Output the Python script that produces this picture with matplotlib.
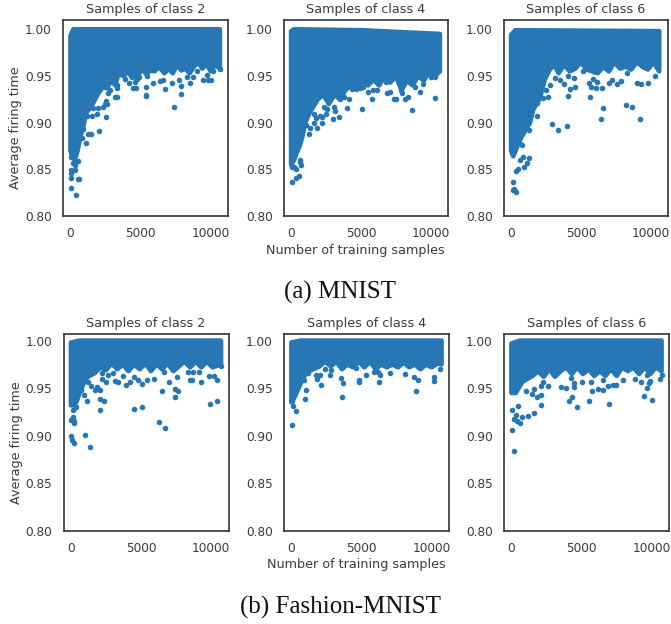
import matplotlib
matplotlib.use("Agg")
import matplotlib.pyplot as plt

BLUE = "#2677b3"
INK = "#3a3a3a"
W, H = 671, 624

panel_titles = ["Samples of class 2", "Samples of class 4", "Samples of class 6"]
y_ticks = [0.80, 0.85, 0.90, 0.95, 1.00]
x_ticks = [0, 5000, 10000]
captions = ["(a) MNIST", "(b) Fashion-MNIST"]
y_label = "Average firing time"
x_label = "Number of training samples"

# Lower edge of the solid mass of points (x, y)
a2_edge_x = [0, 100, 300, 500, 700, 900, 1100, 1500, 2000, 2300, 2600, 2900, 3200, 3400, 3800, 4100, 4400, 4800, 5100, 5400, 5700, 6000, 6300, 6700, 7000, 7300, 7600, 7900, 8200, 8500, 8800, 9100, 9400, 9700, 10000, 10300, 10650]
a2_edge_y = [.870, .865, .860, .870, .885, .895, .910, .918, .932, .938, .937, .945, .940, .952, .950, .955, .948, .950, .958, .952, .956, .955, .960, .953, .958, .953, .962, .956, .958, .953, .960, .965, .958, .963, .955, .962, .958]
a4_edge_x = [0, 200, 400, 600, 800, 1000, 1300, 1900, 2300, 2700, 3100, 3500, 3900, 4300, 4700, 5100, 5500, 5900, 6300, 6700, 7100, 7500, 7900, 8300, 8700, 9100, 9500, 9900, 10300, 10650]
a4_edge_y = [.855, .860, .868, .875, .885, .900, .910, .925, .930, .920, .930, .925, .935, .940, .935, .945, .940, .946, .940, .950, .943, .950, .935, .945, .940, .950, .945, .955, .950, .955]
a6_edge_x = [0, 150, 640, 1340, 1580, 2050, 2400, 2760, 3100, 3400, 3800, 4200, 4600, 5000, 5400, 5800, 6200, 6600, 7000, 7400, 7800, 8200, 8600, 9000, 9400, 9800, 10200, 10600]
a6_edge_y = [.870, .864, .882, .900, .914, .926, .946, .957, .962, .953, .962, .955, .958, .965, .957, .955, .953, .960, .955, .965, .958, .960, .957, .965, .960, .957, .965, .955]
b2_edge_x = [0, 200, 400, 600, 900, 1200, 1700, 2100, 2500, 2900, 3300, 3700, 4100, 4500, 4900, 5300, 5700, 6100, 6500, 6900, 7300, 7700, 8100, 8500, 8900, 9300, 9700, 10100, 10700]
b2_edge_y = [.932, .932, .936, .945, .955, .962, .966, .972, .969, .976, .970, .975, .968, .975, .970, .976, .968, .975, .970, .976, .968, .973, .978, .972, .978, .972, .978, .972, .975]
b4_edge_x = [0, 200, 500, 800, 1100, 2000, 2400, 2800, 3200, 3600, 4000, 4400, 4800, 5200, 5600, 6000, 6400, 6800, 7200, 7600, 8000, 8400, 8800, 9200, 9600, 10000, 10400, 10700]
b4_edge_y = [.935, .940, .950, .960, .967, .973, .978, .973, .978, .970, .975, .972, .978, .972, .978, .970, .975, .972, .975, .972, .977, .972, .975, .970, .975, .972, .976, .975]
b6_edge_x = [0, 300, 500, 800, 1500, 1900, 2300, 2700, 3100, 3500, 3900, 4300, 4700, 5100, 5500, 5900, 6300, 6700, 7100, 7500, 7900, 8300, 8700, 9100, 9500, 9900, 10300, 10700]
b6_edge_y = [.945, .945, .950, .957, .963, .968, .962, .970, .962, .968, .972, .965, .972, .965, .970, .963, .968, .963, .970, .963, .972, .968, .972, .965, .972, .965, .972, .968]

# Upper edge of the solid mass
a2_top_x = [0, 200, 10650]
a2_top_y = [.993, 1.0, 1.0]
a4_top_x = [0, 200, 5000, 10650]
a4_top_y = [.998, 1.0, .999, .995]
a6_top_x = [0, 300, 10600]
a6_top_y = [.994, .999, .998]
b2_top_x = [0, 600, 10700]
b2_top_y = [.998, 1.0, 1.0]
b4_top_x = [0, 600, 10700]
b4_top_y = [.998, 1.0, 1.0]
b6_top_x = [0, 600, 10700]
b6_top_y = [.997, 1.0, 1.0]

# Individually visible points (x, y)
a2_px = [24,357,500,620,24,48,24,333,333,190,548,24,1095,1262,1430,2050,2524,1500,1880,7380,7860,5360,5360,3170,3290,2520,2480,2620,2810,2690,3290,3310,3880,4190,4480,4670,4600,4760,4900,5360,5480,5900,6380,6570,6760,7210,7760,7860,8330,8520,8760,9480,9830,10000,10670,10190,9710,9000,1570,1976,2290,1190,905,786]
a2_py = [.830,.823,.840,.840,.841,.846,.849,.849,.855,.857,.859,.863,.878,.888,.888,.891,.906,.907,.909,.917,.931,.930,.929,.928,.928,.923,.920,.920,.935,.932,.937,.940,.947,.942,.937,.937,.944,.947,.949,.938,.950,.942,.945,.946,.936,.943,.946,.939,.949,.943,.949,.946,.946,.946,.958,.955,.951,.955,.916,.916,.917,.907,.893,.884]
a4_px = [93,325,560,740,630,650,325,93,230,1300,1350,1860,2230,1670,1790,2090,2180,2510,2980,3420,3120,4000,5070,8650,4120,3810,5810,5510,4930,5160,5860,6160,6900,7070,7370,7530,7950,7840,8190,8370,9230,10280,9470,8880,2370,2600,1670,1090,3070,3530,4350,6790,10050,10280]
a4_py = [.836,.841,.843,.855,.858,.860,.850,.853,.852,.888,.894,.894,.900,.900,.905,.907,.906,.909,.904,.906,.912,.916,.915,.914,.925,.927,.925,.933,.937,.938,.935,.935,.932,.933,.925,.925,.932,.935,.925,.928,.933,.926,.941,.938,.917,.915,.909,.898,.917,.925,.936,.944,.949,.949]
a6_px = [165,210,165,350,330,470,920,1110,1300,640,825,755,570,1300,1250,1820,2950,3370,3990,4060,5640,6420,6560,8210,8660,9250,2050,2290,2640,1820,1340,990,4580,4220,3820,3510,3110,2520,2760,5710,6060,6530,5540,5830,6180,7190,7590,7900,9010,9320,9790,7000,4060,4530,5120,8300,10300]
a6_py = [.836,.829,.828,.826,.848,.850,.853,.857,.862,.860,.863,.876,.879,.892,.901,.907,.899,.892,.896,.929,.927,.904,.916,.919,.917,.904,.928,.926,.928,.921,.917,.903,.938,.936,.941,.946,.948,.935,.940,.938,.937,.937,.943,.947,.944,.946,.941,.945,.942,.941,.943,.942,.950,.948,.955,.953,.950]
b2_px = [24,48,190,976,1357,0,143,190,238,119,381,1143,905,2048,2048,2333,4524,5071,6310,6714,6476,7405,7452,7667,9881,10429,10381,9286,8524,8643,7024,5071,4762,5429,3929,3167,3333,2524,2214,1857,2048,1690,1429,1190,714,2214,3000,2620,3690,4240,4476,5905,8333,8714,9119,9833,10190,7570,6620,10670]
b2_py = [.900,.895,.892,.901,.888,.917,.920,.915,.913,.927,.930,.937,.943,.927,.939,.936,.928,.930,.914,.908,.947,.941,.949,.947,.933,.937,.959,.957,.959,.959,.957,.954,.959,.959,.953,.958,.957,.956,.960,.951,.948,.948,.952,.956,.948,.966,.966,.964,.963,.957,.962,.960,.967,.967,.967,.963,.963,.962,.967,.973]
b4_px = [24,306,118,24,943,3610,8915,1060,2100,1815,1745,2050,2760,3510,3680,4810,4810,5330,6250,6340,8750,8990,10140,10140,10570,920,1200,2380,4575,8110,7050,5920,6150,2800]
b4_py = [.911,.926,.931,.936,.939,.941,.947,.948,.953,.960,.964,.964,.964,.961,.955,.957,.959,.964,.956,.964,.962,.959,.958,.962,.970,.959,.966,.970,.971,.965,.966,.967,.967,.969]
b6_px = [170,50,0,190,290,410,575,765,1150,1580,2080,480,4115,4305,4640,5525,6960,9470,10020,9690,9810,9860,9665,9260,1050,1435,1840,2105,1625,2080,2270,2630,3515,3875,4425,4475,4235,5025,5670,5740,6150,6530,6870,7225,7465,6510,7940,8780,10570,10720]
b6_py = [.884,.906,.927,.918,.922,.915,.913,.920,.921,.924,.932,.931,.936,.941,.930,.936,.933,.942,.938,.950,.955,.958,.964,.957,.947,.944,.941,.943,.949,.952,.956,.952,.951,.950,.951,.955,.961,.956,.957,.947,.949,.948,.952,.953,.953,.959,.959,.960,.960,.964]

rows = [
    dict(top=20, bottom=216, ymax=1.01, lefts=[63, 283.7, 503.7], rights=[228, 448, 668],
         data=[(a2_edge_x, a2_edge_y, a2_top_x, a2_top_y, a2_px, a2_py),
               (a4_edge_x, a4_edge_y, a4_top_x, a4_top_y, a4_px, a4_py),
               (a6_edge_x, a6_edge_y, a6_top_x, a6_top_y, a6_px, a6_py)]),
    dict(top=334, bottom=530.7, ymax=1.007, lefts=[63.5, 284, 504], rights=[228.5, 449, 669],
         data=[(b2_edge_x, b2_edge_y, b2_top_x, b2_top_y, b2_px, b2_py),
               (b4_edge_x, b4_edge_y, b4_top_x, b4_top_y, b4_px, b4_py),
               (b6_edge_x, b6_edge_y, b6_top_x, b6_top_y, b6_px, b6_py)]),
]

fig = plt.figure(figsize=(W / 100, H / 100), dpi=100, facecolor="white")

for row in rows:
    for i in range(3):
        l, r = row["lefts"][i], row["rights"][i]
        ax = fig.add_axes([l / W, 1 - row["bottom"] / H, (r - l) / W, (row["bottom"] - row["top"]) / H])
        ex, ey, tx, ty, px, py = row["data"][i]
        # solid mass: polygon with a round outline as thick as one marker
        poly = list(zip(tx, ty)) + list(zip(ex, ey))[::-1]
        ax.fill([p[0] for p in poly], [p[1] for p in poly], facecolor=BLUE, edgecolor=BLUE,
                linewidth=3.4, joinstyle="round")
        ax.scatter(px, py, s=16, color=BLUE, linewidths=0, zorder=3)
        ax.set_xlim(-535, 11235)
        ax.set_ylim(0.80, row["ymax"])
        ax.set_xticks(x_ticks)
        ax.set_yticks(y_ticks)
        ax.set_yticklabels([f"{v:.2f}" for v in y_ticks])
        ax.tick_params(length=0, pad=8, labelsize=8.7, colors=INK)
        for s in ax.spines.values():
            s.set_linewidth(1.2)
            s.set_color("#333333")
        ax.set_title(panel_titles[i], fontsize=9.2, color=INK, pad=5)
        if i == 0:
            ax.set_ylabel(y_label, fontsize=9.2, color=INK, labelpad=2, y=0.449)
        if i == 1:
            ax.set_xlabel(x_label, fontsize=9.2, color=INK, labelpad=2.5, x=0.436)

fig.text(340 / W, 1 - 292 / H, captions[0], family="Liberation Serif", fontsize=18, color="#111111",
         ha="center", va="center")
fig.text(340 / W, 1 - 607 / H, captions[1], family="Liberation Serif", fontsize=18, color="#111111",
         ha="center", va="center")

fig.savefig("out.png", dpi=100)
